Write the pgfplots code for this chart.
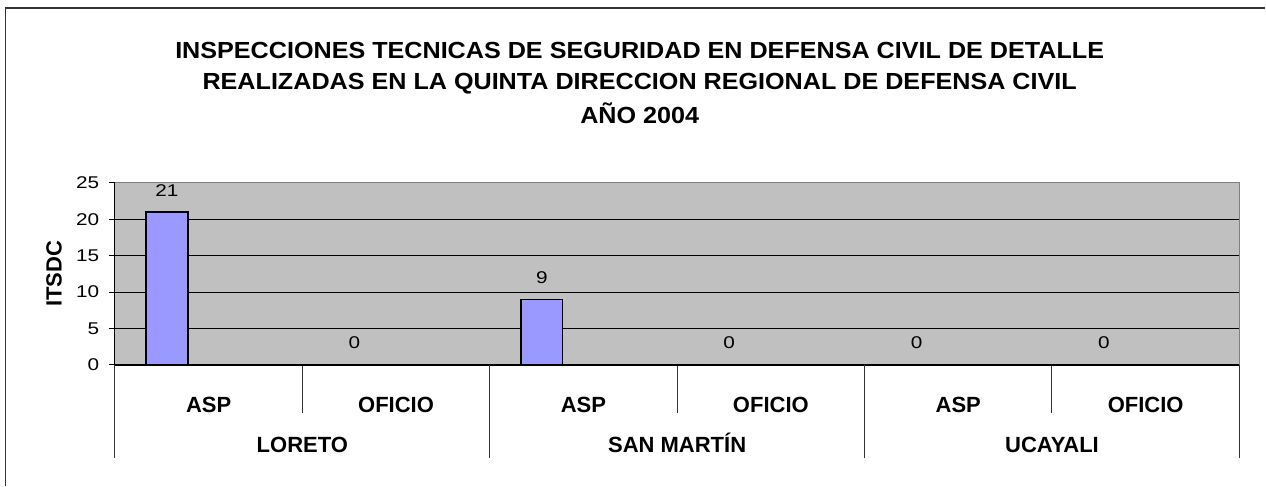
\documentclass[border=0pt]{standalone}
\usepackage{fontspec}
\setmainfont{Liberation Sans}
\newfontfamily\titlefont{Liberation Sans}[FakeStretch=1.08]
\newfontfamily\numfont{Liberation Sans}[FakeStretch=1.22]
\usepackage{pgfplots}
\pgfplotsset{compat=1.18}
\definecolor{barblue}{HTML}{9999FF}
\definecolor{plotgray}{HTML}{C0C0C0}
\definecolor{bordergray}{HTML}{808080}
\newcommand{\catfont}{\bfseries\fontsize{22bp}{26bp}\selectfont}
\newcommand{\tfont}{\titlefont\bfseries\fontsize{23.3bp}{28bp}\selectfont}
\begin{document}
\begin{tikzpicture}[x=1bp,y=1bp]
\path (-115,-121) rectangle (1151,365);
\draw[line width=1.3bp, black!80] (-109.5,-121) -- (-109.5,357) -- (1151,357);
\node[font=\tfont, anchor=base] at (525,306.7) {INSPECCIONES TECNICAS DE SEGURIDAD EN DEFENSA CIVIL DE DETALLE};
\node[font=\tfont, anchor=base] at (525,275.7) {REALIZADAS EN LA QUINTA DIRECCION REGIONAL DE DEFENSA CIVIL};
\node[font=\tfont, anchor=base] at (525,241.7) {AÑO 2004};
\begin{axis}[
  at={(0,0)}, anchor=south west,
  scale only axis, width=1125bp, height=182bp,
  xmin=-0.5, xmax=5.5, ymin=0, ymax=25,
  clip=false,
  axis x line*=bottom, axis y line*=left,
  x axis line style={-, line width=1.5bp, black},
  y axis line style={-, line width=1bp, black},
  axis background/.style={fill=plotgray, draw=bordergray, line width=1bp},
  /pgf/number format/assume math mode=true,
  tick align=outside,
  major tick length=6bp,
  ytick={0,25},
  extra y ticks={5,10,15,20},
  extra y tick style={grid=major},
  major grid style={black, line width=0.9bp},
  ytick style={black, line width=1bp},
  yticklabel style={font=\numfont\fontsize{17bp}{20bp}\selectfont, anchor=east, inner sep=0pt, xshift=-9.5bp},
  xtick={0,1,2,3,4,5},
  xticklabels={ASP,OFICIO,ASP,OFICIO,ASP,OFICIO},
  major x tick style={draw=none},
  xticklabel style={font=\catfont, anchor=north, inner sep=0pt, yshift=-25.7bp},
  extra x ticks={-0.5,1.5,3.5,5.5},
  extra x tick labels={},
  extra x tick style={major tick length=93bp, major x tick style={draw=black!80, line width=1bp}},
  minor xtick={0.5,2.5,4.5},
  minor tick length=48bp,
  minor x tick style={draw=black!80, line width=1bp},
  ylabel={ITSDC},
  ylabel style={font=\catfont, at={(axis description cs:-0.0542,0.5)}, anchor=center},
  nodes near coords,
  every node near coord/.append style={font=\numfont\fontsize{17bp}{20bp}\selectfont, anchor=south, inner sep=0pt, yshift=15bp, xshift=-41.7bp, black},
]
\addplot[ybar, bar width=0.2222, bar shift=-0.2222, fill=barblue, draw=black, line width=1.5bp]
  coordinates {(0,21) (1,0) (2,9) (3,0) (4,0) (5,0)};
\node[font=\catfont, anchor=base] at ([yshift=-87.7bp]axis cs:0.5,0) {LORETO};
\node[font=\catfont, anchor=base] at ([yshift=-87.7bp]axis cs:2.5,0) {SAN MARTÍN};
\node[font=\catfont, anchor=base] at ([yshift=-87.7bp]axis cs:4.5,0) {UCAYALI};
\end{axis}
\end{tikzpicture}
\end{document}
